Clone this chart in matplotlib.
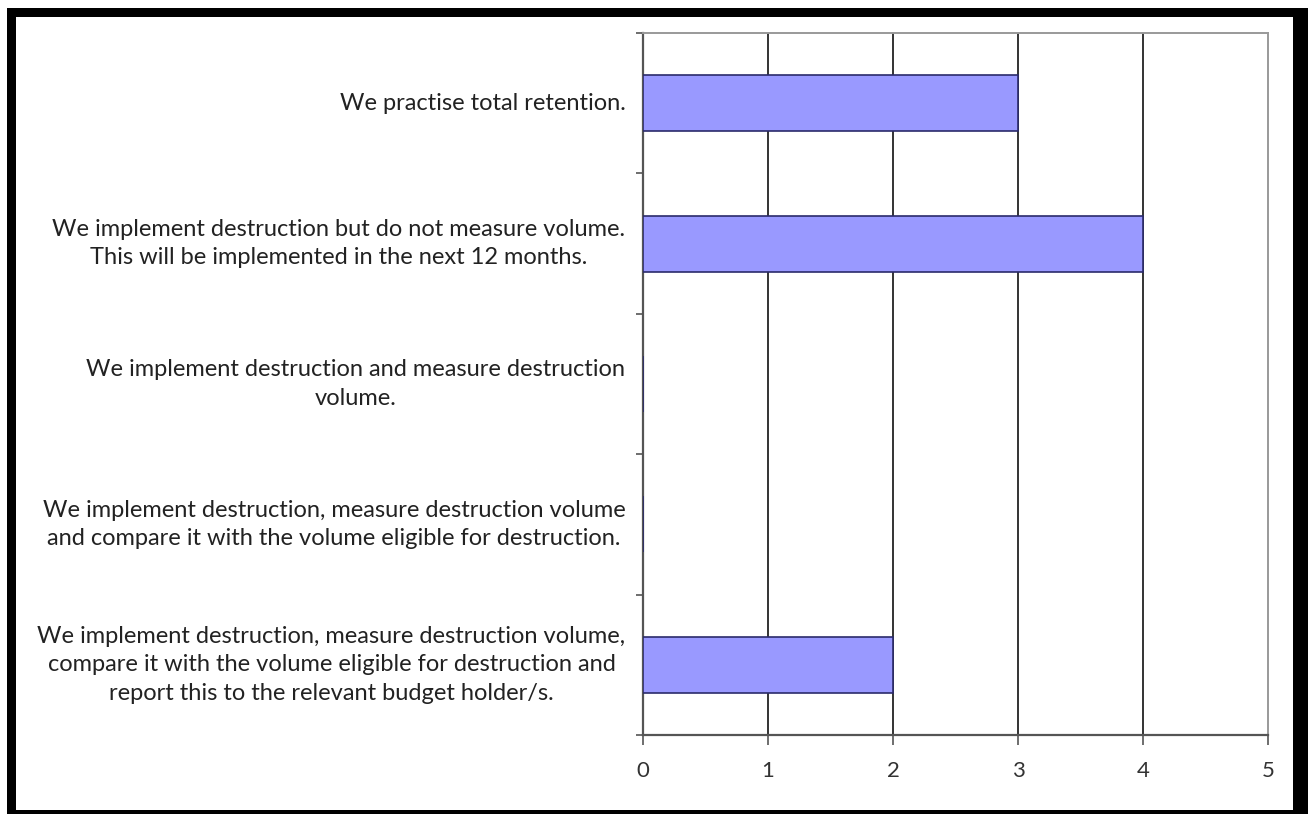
import matplotlib.pyplot as plt
from matplotlib.patches import Rectangle

categories = [
    "We practise total retention.",
    "We implement destruction but do not measure volume.\nThis will be implemented in the next 12 months.",
    "We implement destruction and measure destruction\nvolume.",
    "We implement destruction, measure destruction volume\nand compare it with the volume eligible for destruction.",
    "We implement destruction, measure destruction volume,\ncompare it with the volume eligible for destruction and\nreport this to the relevant budget holder/s.",
]
counts = [3, 4, 0, 0, 2]
x_ticks = [0, 1, 2, 3, 4, 5]

plt.rcParams['font.family'] = ['Lato', 'DejaVu Sans']

W, H = 1308, 814
fig = plt.figure(figsize=(W / 100, H / 100), dpi=100)
fig.patch.set_facecolor('white')

# thick black frame, given as (left, top, width, height) in pixels
for (x0, top, w, h) in [(7, 8, 9, H - 8), (7, 8, W - 7, 9), (1293, 8, 15, H - 8), (7, 810, W - 7, 4)]:
    fig.patches.append(Rectangle((x0 / W, (H - top - h) / H), w / W, h / H, transform=fig.transFigure,
                                 facecolor='black', edgecolor='none', zorder=10))

ax = fig.add_axes([643 / W, (H - 735) / H, (1268 - 643) / W, (735 - 33) / H])

y = list(range(len(categories)))
ax.barh(y, counts, height=0.4, color='#9999ff', edgecolor='#2b2b6b', linewidth=1.2, zorder=3)

ax.set_xlim(0, 5)
ax.set_ylim(len(categories) - 0.5, -0.5)

ax.set_xticks(x_ticks)
ax.set_xticklabels([str(t) for t in x_ticks], fontsize=16, color='#333333')
ax.tick_params(axis='x', length=7, width=1.2, color='#555555', pad=12)

ax.set_yticks([i - 0.5 for i in range(len(categories) + 1)])
ax.set_yticklabels([])
ax.tick_params(axis='y', length=5, width=1.2, color='#555555')

for i, label in enumerate(categories):
    ax.text(-0.14, i, label, ha='right', va='center', multialignment='center',
            fontsize=17, color='#222222', linespacing=1.45, transform=ax.transData)

for v in x_ticks[1:-1]:
    ax.axvline(v, color='#333333', linewidth=1.4, zorder=1)

ax.spines['left'].set_color('#555555')
ax.spines['left'].set_linewidth(1.6)
ax.spines['bottom'].set_color('#555555')
ax.spines['bottom'].set_linewidth(1.6)
ax.spines['top'].set_color('#999999')
ax.spines['top'].set_linewidth(1.4)
ax.spines['right'].set_color('#999999')
ax.spines['right'].set_linewidth(1.4)

fig.savefig('out.png', dpi=100)
